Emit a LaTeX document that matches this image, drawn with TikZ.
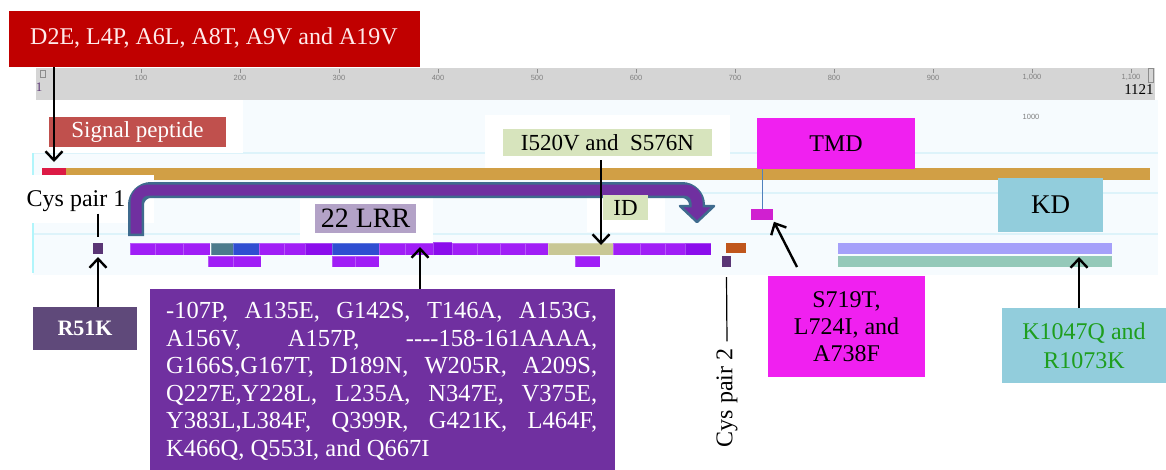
\documentclass[tikz,border=0pt]{standalone}
\usepackage{fontspec}
\setmainfont{Liberation Serif}
\newfontfamily\rulerfont{Liberation Sans}
\usetikzlibrary{arrows.meta}
\definecolor{darkred}{HTML}{C00000}
\definecolor{sigcol}{HTML}{C0504D}
\definecolor{sigseg}{HTML}{DC1A45}
\definecolor{tan}{HTML}{D19F45}
\definecolor{arrpurple}{HTML}{7030A0}
\definecolor{arroutline}{HTML}{3F6B8E}
\definecolor{lrrp}{HTML}{A01EF6}
\definecolor{lrrd}{HTML}{8B0DEC}
\definecolor{tealseg}{HTML}{4B7B8C}
\definecolor{blueseg}{HTML}{2F4ED1}
\definecolor{khaki}{HTML}{C8C795}
\definecolor{darksq}{HTML}{5A3575}
\definecolor{orangeseg}{HTML}{C0561C}
\definecolor{lrrlab}{HTML}{B3A2C7}
\definecolor{bigbox}{HTML}{7030A0}
\definecolor{lightgreen}{HTML}{D7E4BD}
\definecolor{magenta1}{HTML}{F020F0}
\definecolor{magenta2}{HTML}{D020D0}
\definecolor{kdblue}{HTML}{92CDDC}
\definecolor{lavender}{HTML}{A5A0FA}
\definecolor{greenbar}{HTML}{94C9B9}
\definecolor{rbox}{HTML}{5F497A}
\definecolor{kgreen}{HTML}{1E9E1E}
\definecolor{panel}{HTML}{F6FBFE}
\definecolor{trackline}{HTML}{DDF3FA}
\definecolor{ruler}{HTML}{D5D5D5}
\definecolor{steel}{HTML}{4F81BD}
\newcommand\rn[6]{\node[#6,anchor=north west,inner sep=0pt,outer sep=0pt,minimum width=#4pt-#2pt,minimum height=#5pt-#3pt] (#1) at (#2,#3)}
\newcommand\sg[6]{\rn{#1}{#2}{#3}{#4}{#5}{seg,fill=#6}{};}
\tikzset{
  seg/.style={draw=white,draw opacity=0.25,line width=0.6pt},
  arr/.style={line width=2.4pt,black,-{Straight Barb[length=9pt,width=17pt,line width=2.4pt]}},
  thinline/.style={line width=1.2pt,black},
  txt/.style={font=\fontsize{24}{27}\selectfont},
  rlab/.style={font=\rulerfont\fontsize{7.5}{8}\selectfont,text=black!50,inner sep=0pt},
}
\begin{document}
\begin{tikzpicture}[x=1pt,y=-1pt]
\useasboundingbox (0,0) rectangle (1166,469);
\fill[white] (0,0) rectangle (1166,469);
% panel
\fill[panel] (33,100) rectangle (1158,275);
\foreach \yy in {153,193,234} \draw[trackline,line width=1.2pt] (33,\yy) -- (1158,\yy);
\draw[trackline!80!cyan,line width=2pt] (33,153) -- (33,273);
% ruler
\rn{ruler}{36}{68}{1155}{100}{fill=ruler}{};
\foreach \n/\lab in {1/100,2/200,3/300,4/400,5/500,6/600,7/700,8/800,9/900,10/{1,000},11/{1,100}}{
  \draw[black!45,line width=0.6pt] ({42+99*\n},69) -- ({42+99*\n},73);
  \node[rlab] (t\n) at ({42+99*\n},77.5) {\lab};
}
\draw[black!45,line width=0.5pt] (40,70) rectangle (45,77);
\draw[black!45,line width=0.5pt] (1148,68) rectangle (1153,82);
\node[font=\fontsize{13}{14}\selectfont,text=darksq,inner sep=0pt] (one) at (39,87) {1};
\node[font=\fontsize{15}{16}\selectfont,inner sep=0pt] (end) at (1139,90) {1121};
\node[rlab] (k1000) at (1031,117) {1000};
% white boxes
\fill[white] (33,100) rectangle (243,153);
\fill[white] (300,198) rectangle (433,244);
\fill[white] (485,115) rectangle (730,170);
\fill[white] (587,190) rectangle (665,232);
% top bars
\rn{tanbar}{66}{168}{1150}{180}{fill=tan}{};
\rn{sig}{42}{168}{66}{175}{fill=sigseg}{};
\fill[white] (18,175) rectangle (154,223);
% big curved arrow
\coordinate (ca0) at (136,236);
\coordinate (ca1) at (136,190);
\coordinate (ca2) at (697,190);
\coordinate (ca3) at (697,207);
\draw[arroutline,line width=16pt,rounded corners=15pt] (ca0) -- (ca1) -- (ca2) -- (ca3);
\draw[arroutline,line width=2.5pt,fill=arrpurple,line join=round] (680,206) -- (714,206) -- (697,222) -- cycle;
\draw[arrpurple,line width=11pt,rounded corners=12pt] (136,233.5) -- (ca1) -- (ca2) -- (697,208);
% row segments
\sg{a1}{130}{243}{155}{255}{lrrp}
\sg{a2}{155}{243}{183}{255}{lrrp}
\sg{a3}{183}{243}{210}{255}{lrrp}
\sg{a4}{211}{243}{233}{255}{tealseg}
\sg{a5}{233}{243}{259}{255}{blueseg}
\sg{a6}{259}{243}{284}{255}{lrrp}
\sg{a7}{284}{243}{305}{255}{lrrp}
\sg{a8}{305}{243}{332}{255}{lrrd}
\sg{a9}{332}{243}{379}{255}{blueseg}
\sg{a10}{379}{243}{405}{255}{lrrp}
\sg{a11}{405}{243}{433}{255}{lrrp}
\sg{a12}{433}{242}{452}{255}{lrrd}
\sg{a13}{452}{243}{477}{255}{lrrp}
\sg{a14}{477}{243}{500}{255}{lrrp}
\sg{a15}{500}{243}{525}{255}{lrrp}
\sg{a16}{525}{243}{548}{255}{lrrp}
\sg{a17}{548}{243}{613}{255}{khaki}
\sg{a18}{613}{243}{640}{255}{lrrp}
\sg{a19}{640}{243}{665}{255}{lrrp}
\sg{a20}{665}{243}{685}{255}{lrrp}
\sg{a21}{685}{243}{711}{255}{lrrd}
\sg{b1}{208}{256}{233}{267}{lrrp}
\sg{b2}{233}{256}{261}{267}{lrrp}
\sg{b3}{332}{256}{355}{267}{lrrp}
\sg{b4}{355}{256}{379}{267}{lrrp}
\sg{b5}{575}{256}{600}{267}{lrrp}
\rn{sq1}{93}{243}{103}{254}{fill=darksq}{};
\rn{sq2}{722}{256}{731}{267}{fill=darksq}{};
\rn{orng}{726}{243}{746}{253}{fill=orangeseg}{};
\rn{lav}{838}{243}{1112}{254}{fill=lavender}{};
\rn{grn}{838}{256}{1112}{267}{fill=greenbar}{};
\rn{mag}{751}{209}{773}{220}{fill=magenta2}{};
% label boxes
\rn{redbox}{8}{10}{420}{67}{fill=darkred,draw=white,line width=1pt,text=white!92!red,txt}{D2E, L4P, A6L, A8T, A9V and A19V};
\rn{sigbox}{49}{117}{226}{147}{fill=sigcol,text=white,font=\fontsize{23}{26}\selectfont}{Signal peptide};
\node[txt,inner sep=0pt] (cys1) at (76,201) {Cys pair 1};
\rn{lrrlab}{315}{204}{416}{233}{fill=lrrlab,font=\fontsize{28}{30}\selectfont}{22 LRR};
\rn{ibox}{503}{129}{712}{156}{fill=lightgreen,font=\fontsize{23}{26}\selectfont}{I520V and\ \ S576N};
\rn{idbox}{603}{195}{648}{220}{fill=lightgreen,font=\fontsize{23}{26}\selectfont}{ID};
\rn{tmd}{757}{118}{915}{169}{fill=magenta1,txt}{TMD};
\rn{kd}{998}{178}{1103}{232}{fill=kdblue,font=\fontsize{27}{30}\selectfont}{KD};
\rn{r51k}{33}{307}{137}{350}{fill=rbox,text=white,font=\bfseries\fontsize{22}{24}\selectfont}{R51K};
\rn{lrrbox}{150}{289}{615}{480}{fill=bigbox}{};
\node[anchor=north west,inner sep=0pt,text width=431pt,align=justify,text=white,font=\fontsize{24.5}{27.6}\selectfont] (lrrtext) at (166,302) {\hyphenpenalty=10000 -107P, A135E, G142S, T146A, A153G,\linebreak A156V, A157P, {-}{-}{-}{-}158{-}161AAAA,\linebreak G166S,G167T, D189N, W205R, A209S,\linebreak Q227E,Y228L, L235A, N347E, V375E,\linebreak Y383L,L384F, Q399R, G421K, L464F,\linebreak K466Q, Q553I, and Q667I};
\rn{sbox}{768}{276}{925}{377}{fill=magenta1,align=center,font=\fontsize{24}{27}\selectfont}{S719T,\\L724I, and\\A738F};
\rn{kbox}{1002}{308}{1166}{383}{fill=kdblue,align=center,text=kgreen,font=\fontsize{24}{29}\selectfont}{K1047Q and\\R1073K};
\node[rotate=90,txt,inner sep=0pt] (cys2) at (727,398) {Cys pair 2};
% connectors
\draw[arr,shorten >=6pt] (redbox.south -| sig.north) -- (sig.north);
\draw[thinline] ([yshift=-2pt]cys1.south -| sq1.north) -- ([yshift=6pt]sq1.north);
\draw[arr,shorten >=3pt] (r51k.north -| sq1.south) -- (sq1.south);
\coordinate (lrrtip) at (420,247);
\draw[arr] (lrrbox.north -| lrrtip) -- (lrrtip);
\coordinate (itip) at (601,245);
\draw[arr] ([yshift=-4pt]ibox.south -| itip) -- (itip);
\draw[steel,line width=1pt] (tmd.south -| mag.north) -- (mag.north);
\coordinate (stail) at (797,267);
\draw[arr,shorten >=2pt] (stail) -- (mag.south east);
\draw[thinline] ([yshift=-10pt]sq2.south) -- ([yshift=7pt]cys2.east);
\coordinate (ktip) at (1079,257);
\draw[arr] (kbox.north -| ktip) -- (ktip);
\end{tikzpicture}
\end{document}
